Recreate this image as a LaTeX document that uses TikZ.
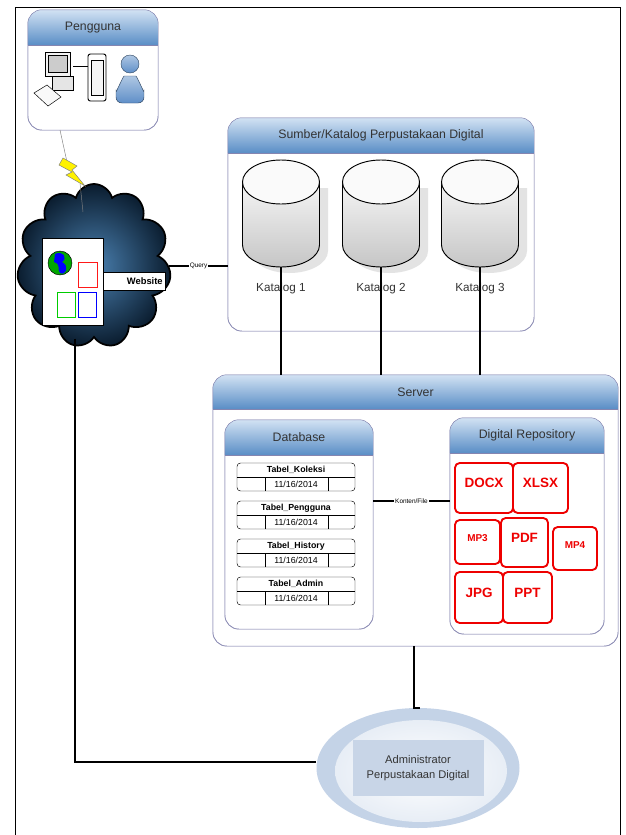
\documentclass[tikz,border=0pt]{standalone}
\usepackage{fontspec}
\setmainfont{Liberation Sans}
\usetikzlibrary{positioning,calc,fit,shapes.geometric,shapes.symbols}

\newcommand{\pxu}{0.03cm}

\definecolor{hdtop}{HTML}{D2E2F3}
\definecolor{hdbot}{HTML}{5A8EC6}
\definecolor{edge}{HTML}{8585B0}
\definecolor{filered}{HTML}{EE0000}
\definecolor{admring}{HTML}{C4D3E7}
\definecolor{admbox}{HTML}{C8D5E7}
\definecolor{cloudin}{HTML}{4A80B0}
\definecolor{cloudout}{HTML}{0A1C2E}
\definecolor{userblue}{HTML}{5F8FC8}

\tikzset{
  panel/.style={draw=edge, fill=white, rounded corners=12pt, inner sep=0pt},
  hdtext/.style={font=\fontsize{10.5}{12}\selectfont, text=black!80},
  lbl/.style={font=\fontsize{10}{12}\selectfont, text=black!80},
  tbl/.style={draw, rounded corners=3pt, minimum width=118*\pxu, minimum height=28*\pxu, inner sep=0pt},
  tbltext/.style={font=\fontsize{7.5}{8}\selectfont},
  filebox/.style={draw=filered, line width=1.6pt, rounded corners=4pt, inner sep=0pt,
                  text=filered, font=\bfseries\fontsize{11.5}{13}\selectfont},
  link/.style={line width=1.7pt},
  tag/.style={fill=white, inner sep=1pt, font=\fontsize{5.5}{6}\selectfont}
}

% box with a shaded title bar on top
\newcommand{\headbox}[3]{%
  \begin{scope}
    \clip[rounded corners=12pt] (#1.north west) rectangle (#1.south east);
    \shade[top color=hdtop, bottom color=hdbot] (#1.north west) rectangle ($(#1.north east)+(0,#2)$);
  \end{scope}
  \draw[edge] ($(#1.north west)+(0,#2)$) -- ($(#1.north east)+(0,#2)$);
  \draw[edge, rounded corners=12pt] (#1.north west) rectangle (#1.south east);
  \node[hdtext] at ($(#1.north)+(0,#2/2)$) {#3};
}

\begin{document}
\begin{tikzpicture}[x=\pxu, y=-\pxu]
\useasboundingbox (0,0) rectangle (626,835);
\draw[thick] (15,845) -- (15,7) -- (620,7) -- (620,845);

% users
\node[panel, fit={(28,10) (158,130)}] (pg) {};
\headbox{pg}{35}{Pengguna}
\draw[fill=gray!10] (45,52) rectangle (70,76);
\draw[fill=gray!40] (48,55) rectangle (67,72);
\draw[fill=gray!20] (52,76) rectangle (73,90);
\draw[fill=gray!5] (34,93) -- (47,85) -- (61,97) -- (48,106) -- cycle;
\draw[thick] (73,66) -- (88,66);
\draw[fill=white, rounded corners=2pt, thick] (88,54) rectangle (106,101);
\draw[fill=gray!8] (91,60) rectangle (103,95);
\draw[draw=userblue!50!black, top color=userblue!50, bottom color=userblue, rounded corners=5pt]
  (116,103) -- (116,86) to[out=-90,in=180] (130,76) to[out=0,in=-90] (144,86) -- (144,103) -- cycle;
\draw[draw=userblue!50!black, top color=userblue!50, bottom color=userblue] (130,64) circle[radius=9];

% internet
\node[cloud, cloud puffs=11, aspect=1, draw=black, line width=1.5pt, inner color=cloudin,
      outer color=cloudout, minimum width=154*\pxu, minimum height=164*\pxu] (cl) at (94,266) {};
\node[draw, fill=white, fit={(42,238) (103,325)}, inner sep=0pt] (web) {};
\node[draw, fill=white, fit={(103,272) (165,290)}, inner sep=0pt] (wl) {};
\node[anchor=east, inner sep=2pt, font=\bfseries\fontsize{8}{9}\selectfont] at (wl.east) {Website};
\fill[green!65!black] (60,263) circle[radius=12];
\fill[blue] (55,254) .. controls (63,250) and (68,258) .. (62,262) .. controls (70,266) and (66,276) .. (60,273)
  .. controls (56,268) and (62,265) .. (54,262) -- cycle;
\draw (60,263) circle[radius=12];
\draw[red!90] (78,262) rectangle (97,287);
\draw[green!80!black] (57,292) rectangle (75,317);
\draw[blue] (78,292) rectangle (96,317);

% lightning
\coordinate (b0) at (60,130);
\coordinate (b1) at (67,162);
\coordinate (b2) at (80,183);
\coordinate (b3) at (83,212);
\draw[gray] (b0) -- (b1);
\draw[gray, fill=yellow] (63,158) -- (77,166) -- (72,170) -- (85,186) -- (66,175) -- (72,172) -- (59,165) -- cycle;
\draw[gray] (b2) -- (b3);

% catalogue sources
\node[panel, fit={(228,118) (534,331)}] (sk) {};
\headbox{sk}{35}{Sumber/Katalog Perpustakaan Digital}
\foreach \x [count=\i] in {281,381,480}{
  \node[fit={(\x-38.5,160) (\x+38.5,267)}, inner sep=0pt] (k\i) {};
  \fill[gray!22] (\x-30,188) -- (\x-30,251) arc[start angle=180, end angle=0, x radius=38.5, y radius=22] -- (\x+47,188) -- cycle;
  \shade[top color=gray!8, bottom color=gray!45, draw=black, thick]
    (\x-38.5,182) -- (\x-38.5,245) arc[start angle=180, end angle=0, x radius=38.5, y radius=22] -- (\x+38.5,182) -- cycle;
  \draw[thick, fill=gray!4] (\x,182) ellipse[x radius=38.5, y radius=22];
  \node[lbl] (kl\i) at (\x,288) {Katalog \i};
}

% server
\node[panel, fit={(213,375) (618,646)}] (srv) {};
\headbox{srv}{34}{Server}
\node[panel, fit={(225,420) (373,629)}] (db) {};
\headbox{db}{35}{Database}
\foreach \t [count=\i] in {Koleksi,Pengguna,History,Admin}{
  \node[tbl] (t\i) at (296,{477+(\i-1)*38}) {};
  \draw (t\i.west) -- (t\i.east);
  \draw ($(t\i.south west)+(28,0)$) -- ($(t\i.west)+(28,0)$);
  \draw ($(t\i.south east)+(-27,0)$) -- ($(t\i.east)+(-27,0)$);
  \node[tbltext, font=\bfseries\fontsize{7.5}{8}\selectfont] at ($(t\i.north)!0.5!(t\i.center)$) {Tabel\_\t};
  \node[tbltext] at ($(t\i.south)!0.5!(t\i.center)$) {11/16/2014};
}
\node[panel, fit={(450,418) (604,634)}] (repo) {};
\headbox{repo}{35}{Digital Repository}
\foreach \n/\a/\b/\c/\d/\s in {docx/455/463/513/513/DOCX, xlsx/513/463/568/513/XLSX,
    mp3/455/520/500/564/{\fontsize{8.5}{9}\selectfont MP3}, pdf/501/518/548/567/PDF,
    mp4/553/527/597/570/{\fontsize{8.5}{9}\selectfont MP4},
    jpg/455/572/503/623/JPG, ppt/503/572/552/623/PPT}
  \node[filebox, fit={(\a,\b) (\c,\d)}] (\n) {\s};

% administrator
\node[ellipse, fill=admring, minimum width=203*\pxu, minimum height=120*\pxu] (adm) at (418,768) {};
\shade[inner color=white, outer color=admring!40] (421,771) ellipse [x radius=86, y radius=51];
\node[fill=admbox, minimum width=131*\pxu, minimum height=56*\pxu, align=center,
      font=\fontsize{9.5}{13}\selectfont, text=black!80] (admt) at (418,768) {Administrator\\Perpustakaan Digital};

% connections
\draw[link] (cl.east) -- node[tag] {Query} (cl.east -| sk.west);
\foreach \i in {1,2,3}
  \draw[link] (k\i.south) -- (k\i.south |- srv.north);
\draw[link] (db.east |- t2.north) -- node[tag] {Konten/File} (repo.west |- t2.north);
\draw[link] ([xshift=-4*\pxu]srv.south -| adm.north) |- ([xshift=2*\pxu]adm.north);
\draw[link] ([xshift=-19*\pxu]cl.south) |- ([yshift=6*\pxu]adm.west);
\end{tikzpicture}
\end{document}
